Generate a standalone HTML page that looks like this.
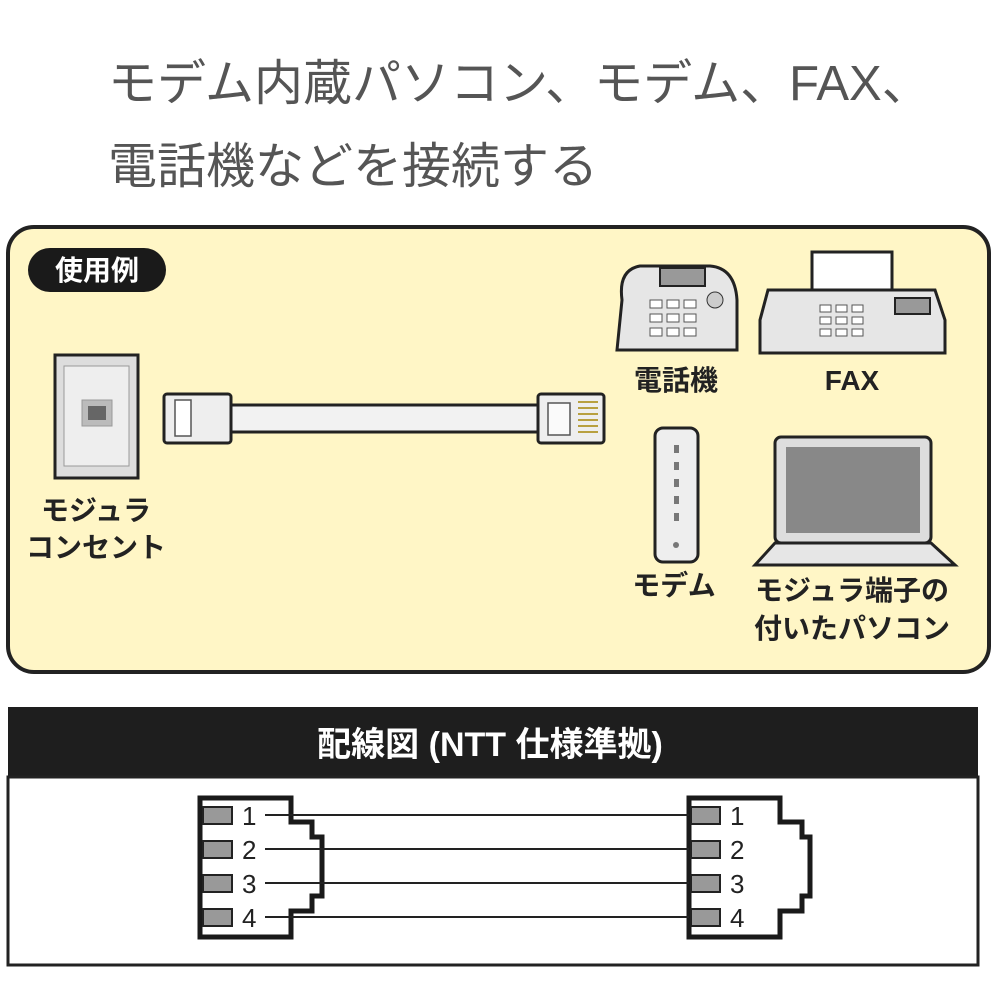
<!DOCTYPE html>
<html><head><meta charset="utf-8"><style>
body{margin:0;background:#fff;}
svg text{font-family:"Liberation Sans","Noto Sans CJK JP",sans-serif;}
</style></head><body>
<svg width="1000" height="1000" viewBox="0 0 1000 1000" xmlns="http://www.w3.org/2000/svg">
<rect width="1000" height="1000" fill="#fff"/>
<text x="108" y="100" font-size="49" fill="#555">モデム内蔵パソコン、モデム、FAX、</text>
<text x="108" y="183" font-size="49" fill="#555">電話機などを接続する</text>

<rect x="8" y="227" width="981" height="445" rx="26" fill="#fff6c6" stroke="#222" stroke-width="4"/>
<rect x="28" y="248" width="138" height="44" rx="22" fill="#1a1a1a"/>
<text x="97" y="280" font-size="28" fill="#fff" text-anchor="middle" font-weight="bold">使用例</text>

<!-- wall plate -->
<rect x="55" y="355" width="83" height="123" fill="#ddd" stroke="#222" stroke-width="3"/>
<rect x="64" y="366" width="65" height="100" fill="#eee" stroke="#999" stroke-width="1"/>
<rect x="82" y="400" width="30" height="26" fill="#bbb" stroke="#999"/>
<rect x="88" y="406" width="18" height="14" fill="#666"/>
<text x="96" y="520" font-size="28" font-weight="bold" text-anchor="middle" fill="#222">モジュラ</text>
<text x="96" y="557" font-size="28" font-weight="bold" text-anchor="middle" fill="#222">コンセント</text>

<!-- cable -->
<rect x="226" y="405" width="318" height="27" fill="#f2f2f2" stroke="#222" stroke-width="3"/>
<rect x="164" y="394" width="67" height="49" rx="3" fill="#eee" stroke="#222" stroke-width="3"/>
<rect x="175" y="400" width="16" height="36" fill="#fff" stroke="#555" stroke-width="1.5"/>
<rect x="538" y="394" width="66" height="49" rx="3" fill="#eee" stroke="#222" stroke-width="3"/>
<rect x="548" y="403" width="22" height="32" fill="#fafafa" stroke="#555" stroke-width="1.5"/>
<g stroke="#b8a040" stroke-width="2"><line x1="578" y1="402" x2="598" y2="402"/><line x1="578" y1="408" x2="598" y2="408"/><line x1="578" y1="414" x2="598" y2="414"/><line x1="578" y1="420" x2="598" y2="420"/><line x1="578" y1="426" x2="598" y2="426"/><line x1="578" y1="432" x2="598" y2="432"/></g>

<!-- phone -->
<path d="M622 300 Q618 270 640 266 L710 266 Q735 268 737 300 L737 350 L617 350 Z" fill="#e6e6e6" stroke="#222" stroke-width="3"/>
<rect x="660" y="268" width="45" height="18" fill="#999" stroke="#222" stroke-width="2"/>
<g fill="#fff" stroke="#555" stroke-width="1"><rect x="650" y="300" width="12" height="8"/><rect x="667" y="300" width="12" height="8"/><rect x="684" y="300" width="12" height="8"/><rect x="650" y="314" width="12" height="8"/><rect x="667" y="314" width="12" height="8"/><rect x="684" y="314" width="12" height="8"/><rect x="650" y="328" width="12" height="8"/><rect x="667" y="328" width="12" height="8"/><rect x="684" y="328" width="12" height="8"/></g>
<circle cx="715" cy="300" r="8" fill="#ccc" stroke="#333"/>
<text x="676" y="390" font-size="28" font-weight="bold" text-anchor="middle" fill="#222">電話機</text>

<!-- fax -->
<rect x="812" y="252" width="80" height="38" fill="#fff" stroke="#222" stroke-width="3"/>
<path d="M768 290 L935 290 L945 320 L945 353 L760 353 L760 320 Z" fill="#e6e6e6" stroke="#222" stroke-width="3"/>
<rect x="895" y="298" width="35" height="16" fill="#999" stroke="#222" stroke-width="2"/>
<g fill="#fff" stroke="#555" stroke-width="1"><rect x="820" y="305" width="11" height="7"/><rect x="836" y="305" width="11" height="7"/><rect x="852" y="305" width="11" height="7"/><rect x="820" y="317" width="11" height="7"/><rect x="836" y="317" width="11" height="7"/><rect x="852" y="317" width="11" height="7"/><rect x="820" y="329" width="11" height="7"/><rect x="836" y="329" width="11" height="7"/><rect x="852" y="329" width="11" height="7"/></g>
<text x="852" y="390" font-size="28" font-weight="bold" text-anchor="middle" fill="#222">FAX</text>

<!-- modem -->
<rect x="655" y="428" width="43" height="134" rx="8" fill="#eee" stroke="#222" stroke-width="3"/>
<g fill="#777"><rect x="674" y="445" width="5" height="8"/><rect x="674" y="462" width="5" height="8"/><rect x="674" y="479" width="5" height="8"/><rect x="674" y="496" width="5" height="8"/><rect x="674" y="513" width="5" height="8"/></g>
<circle cx="676" cy="545" r="3" fill="#777"/>
<text x="674" y="595" font-size="28" font-weight="bold" text-anchor="middle" fill="#222">モデム</text>

<!-- laptop -->
<rect x="775" y="437" width="156" height="106" rx="6" fill="#ddd" stroke="#222" stroke-width="3"/>
<rect x="786" y="447" width="134" height="86" fill="#888"/>
<path d="M775 543 L931 543 L955 565 L755 565 Z" fill="#e6e6e6" stroke="#222" stroke-width="3"/>
<text x="852" y="600" font-size="28" font-weight="bold" text-anchor="middle" fill="#222">モジュラ端子の</text>
<text x="852" y="638" font-size="28" font-weight="bold" text-anchor="middle" fill="#222">付いたパソコン</text>

<!-- wiring -->
<rect x="8" y="707" width="970" height="70" fill="#1e1e1e"/>
<text x="490" y="756" font-size="34" font-weight="bold" fill="#fff" text-anchor="middle">配線図 (NTT 仕様準拠)</text>
<rect x="8" y="777" width="970" height="188" fill="#fff" stroke="#222" stroke-width="3"/>

<g fill="none" stroke="#1a1a1a" stroke-width="5">
<path d="M200 798 L291 798 L291 822 L312 822 L312 837 L322 837 L322 896 L312 896 L312 911 L291 911 L291 937 L200 937 Z"/>
<path d="M780 798 L689 798 L689 937 L780 937 L780 911 L802 911 L802 896 L810 896 L810 837 L802 837 L802 822 L780 822 Z"/>
</g>
<g stroke="#222" stroke-width="2">
<line x1="265" y1="815" x2="689" y2="815"/><line x1="265" y1="849" x2="689" y2="849"/><line x1="265" y1="883" x2="689" y2="883"/><line x1="265" y1="917" x2="689" y2="917"/>
</g>
<g fill="#999" stroke="#222" stroke-width="2">
<rect x="203" y="807" width="29" height="17"/><rect x="203" y="841" width="29" height="17"/><rect x="203" y="875" width="29" height="17"/><rect x="203" y="909" width="29" height="17"/>
<rect x="691" y="807" width="29" height="17"/><rect x="691" y="841" width="29" height="17"/><rect x="691" y="875" width="29" height="17"/><rect x="691" y="909" width="29" height="17"/>
</g>
<g font-size="26" fill="#222">
<text x="242" y="825">1</text><text x="242" y="859">2</text><text x="242" y="893">3</text><text x="242" y="927">4</text>
<text x="730" y="825">1</text><text x="730" y="859">2</text><text x="730" y="893">3</text><text x="730" y="927">4</text>
</g>
</svg>
</body></html>
